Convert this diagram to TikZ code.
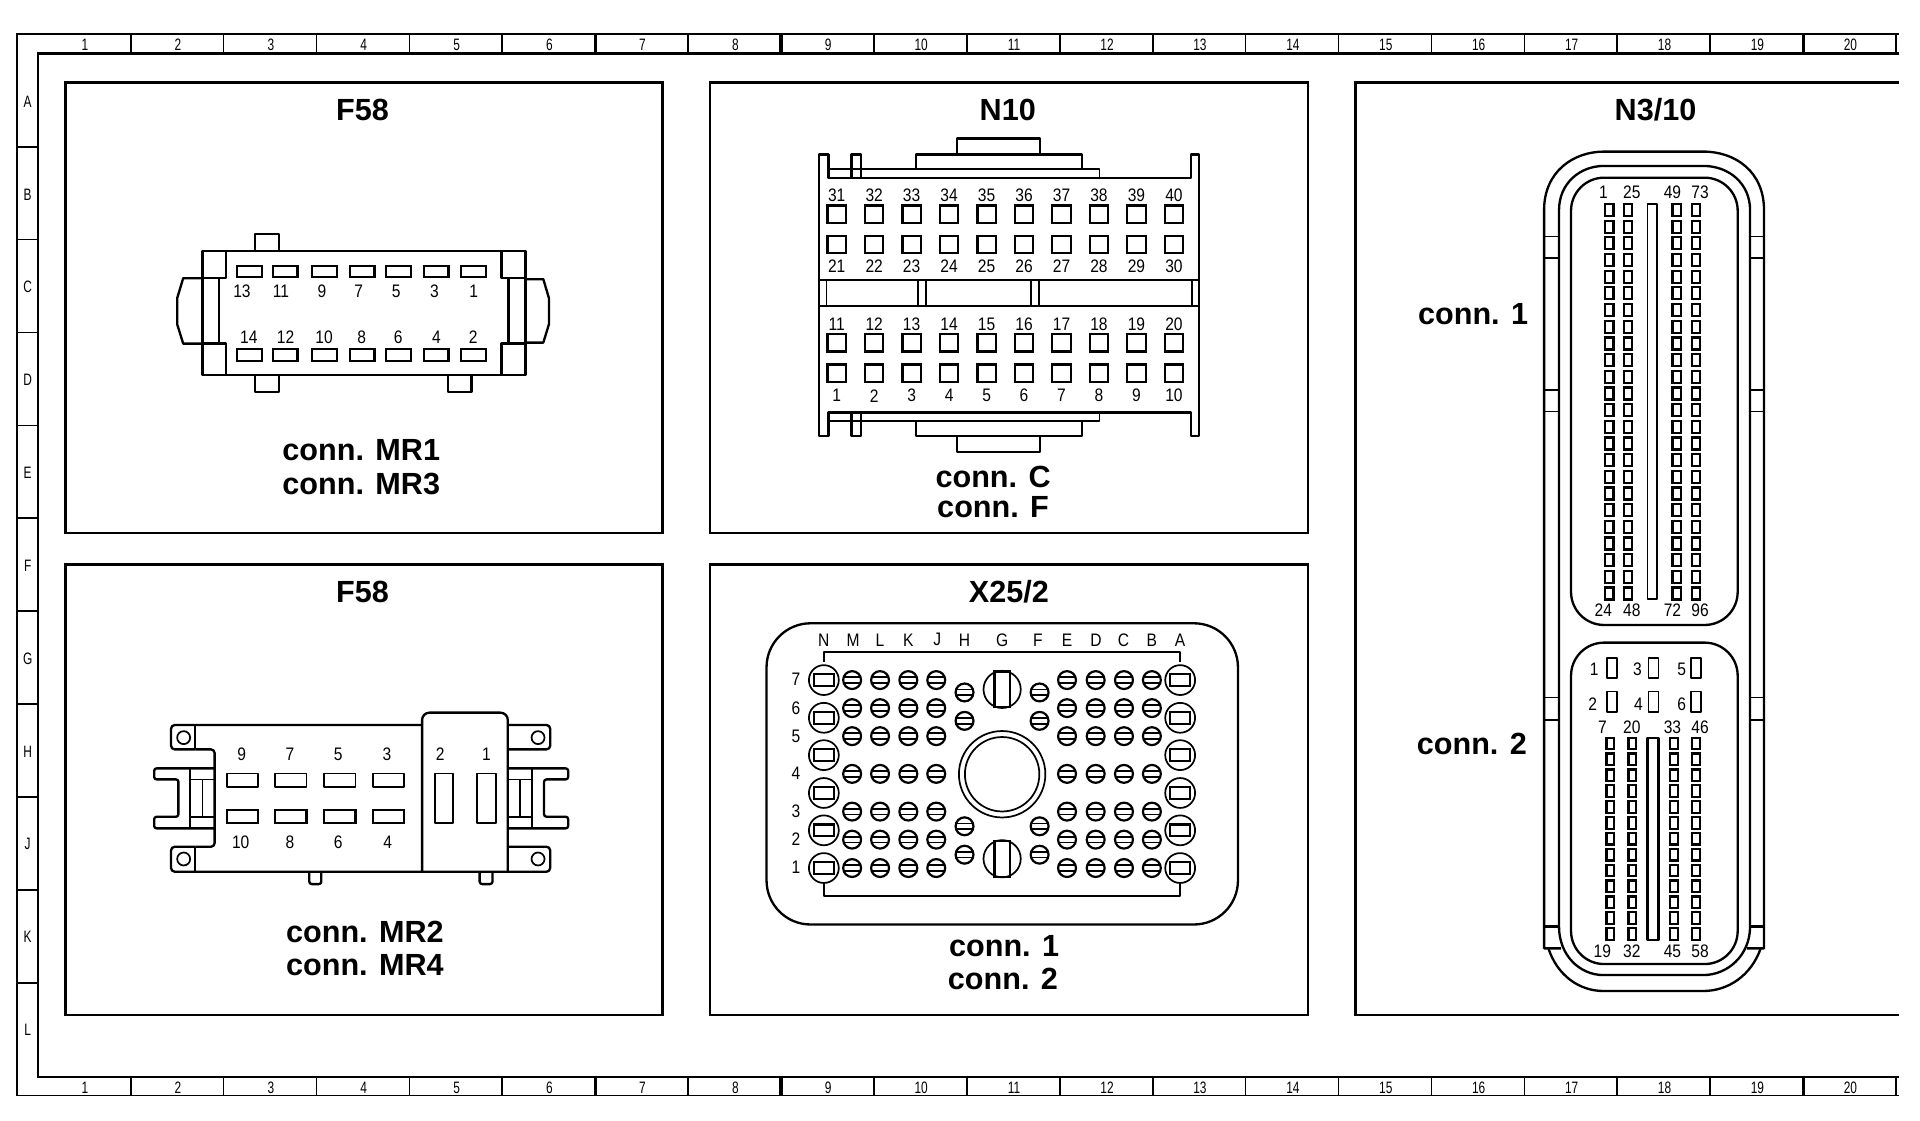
\documentclass[tikz,border=0pt]{standalone}
\usepackage{fontspec}
\setmainfont{Liberation Sans}
\newfontfamily\narrowfont[FakeStretch=0.72]{Liberation Sans}
\newfontfamily\pinfont[FakeStretch=0.86]{Liberation Sans}
\usetikzlibrary{positioning}

\begin{document}
\begin{tikzpicture}[
    x=1pt, y=-1pt,
    panel/.style={draw, line width=2pt},
    frameline/.style={line width=2pt},
    thinline/.style={line width=1pt},
    body/.style={line width=1.9pt, line join=round},
    slim/.style={line width=1.4pt, line join=round},
    pinbox/.style={line width=1.8pt},
    title/.style={font=\bfseries\fontsize{25}{27}\selectfont, inner sep=0pt},
    conn/.style={font=\bfseries\fontsize{25}{27}\selectfont, inner sep=0pt},
    pinlabel/.style={font=\pinfont\fontsize{14.8}{16}\selectfont, inner sep=0pt},
    gridlabel/.style={font=\narrowfont\fontsize{13.5}{14}\selectfont, inner sep=0pt}
]
    \useasboundingbox (0,0) rectangle (1568,914.67);

    % Drawing frame
    \draw[frameline] (14.1,894.8) -- (14.1,27.8) -- (1551,27.8);
    \draw[frameline] (1551,43.6) -- (31,43.6) -- (31,879.5) -- (1551,879.5);
    \draw[thinline] (14.1,894.8) -- (1551,894.8);
    \foreach \i in {1,...,20} {
        \pgfmathsetmacro{\tx}{106.7+(\i-1)*75.88}
        \pgfmathsetmacro{\lx}{69.4+(\i-1)*75.88}
        \ifnum\i=6 \tikzset{tickw/.style={line width=2.6pt}}\else\ifnum\i=8 \tikzset{tickw/.style={line width=2.6pt}}\else\ifnum\i=19 \tikzset{tickw/.style={line width=2.6pt}}\else\tikzset{tickw/.style={line width=1.4pt}}\fi\fi\fi
        \draw[tickw] (\tx,27.8) -- (\tx,43.6);
        \draw[tickw] (\tx,879.5) -- (\tx,894.8);
        \node[gridlabel] (coltop\i) at (\lx,36.8) {\i};
        \node[gridlabel] (colbot\i) at (\lx,888.2) {\i};
    }
    \foreach \i in {0,...,9}
        \draw[line width=1.4pt] (14.1,119.8+\i*75.86) -- (31,119.8+\i*75.86);
    \foreach \n [count=\i from 0] in {A,B,C,D,E,F,G,H,J,K,L}
        \node[gridlabel] (row\n) at (22.6,83+\i*75.8) {\n};

    % Panels
    \draw[panel] (53.6,67.2) rectangle (541.2,435.3);
    \draw[panel] (53.6,461) rectangle (541.2,829);
    \draw[panel] (579.8,67.2) rectangle (1068,435.3);
    \draw[panel] (579.8,461) rectangle (1068,829);
    \draw[panel] (1551,67.2) -- (1107,67.2) -- (1107,829) -- (1551,829);

    % Titles
    \node[title] (titleA) at (296,89.5) {F58};
    \node[title] (titleB) at (296,483.5) {F58};
    \node[title] (titleC) at (823,89.5) {N10};
    \node[title] (titleD) at (824,483.5) {X25/2};
    \node[title] (titleE) at (1352,89.5) {N3/10};
    \node[conn] (mr1) at (295,367.5) {conn. MR1};
    \node[conn] (mr3) at (295,395) {conn. MR3};
    \node[conn] (mr2) at (298,761.5) {conn. MR2};
    \node[conn] (mr4) at (298,788.5) {conn. MR4};
    \node[conn] (nc) at (811,389.5) {conn. C};
    \node[conn] (nf) at (811,414.5) {conn. F};
    \node[conn] (xa) at (820,772.5) {conn. 1};
    \node[conn] (xb) at (819,799.5) {conn. 2};
    \node[conn] (na) at (1203,256.5) {conn. 1};
    \node[conn] (nb) at (1202,607.5) {conn. 2};

    % F58 upper connector
    \draw[body] (165.4,204.9) rectangle (429.2,306.4);
    \draw[body] (208.5,204.9) -- (208.5,191.3) -- (227.9,191.3) -- (227.9,204.9);
    \draw[body] (208.5,306.4) -- (208.5,320) -- (227.9,320) -- (227.9,306.4);
    \draw[body] (366,306.4) -- (366,320) -- (385.1,320) -- (385.1,306.4);
    \draw[body] (184.5,204.9) -- (184.5,227.2) -- (165.4,227.2);
    \draw[body] (184.5,306.4) -- (184.5,280.4) -- (165.4,280.4);
    \draw[body] (409.5,204.9) -- (409.5,227.2) -- (429.2,227.2);
    \draw[body] (409.5,306.4) -- (409.5,280.4) -- (429.2,280.4);
    \draw[body] (178.6,227.2) -- (178.6,280.4);
    \draw[body] (415.4,227.2) -- (415.4,280.4);
    \draw[body] (165.4,227.2) -- (149.6,227.2) -- (144.7,243.5) -- (144.7,264.8) -- (149.6,280.6) -- (165.4,280.6);
    \draw[body] (429.2,228) -- (443.7,228) -- (448.3,243.5) -- (448.3,264.8) -- (443.7,279.8) -- (429.2,279.8);
    \foreach \x in {193.7,223,254.9,285.8,315.4,346.3,376.6} {
        \draw[pinbox] (\x,217.1) rectangle ++(20,9.3);
        \draw[pinbox] (\x,285.2) rectangle ++(20,9.3);
    }
    \foreach \x/\n in {197.6/13,229.5/11,263/9,293/7,323.6/5,354.9/3,386.8/1}
        \node[pinlabel] (fa\n) at (\x,238) {\n};
    \foreach \x/\n in {203.2/14,233.2/12,264.7/10,295.3/8,325.3/6,356.5/4,386.4/2}
        \node[pinlabel] (fa\n) at (\x,275.5) {\n};

    % F58 lower connector
    \draw[body, rounded corners=3pt] (159.5,612) -- (175.3,612) -- (175.3,691.5) -- (159.5,691.5);
    \draw[body, rounded corners=3pt] (344.7,592.1) -- (139.7,592.1) -- (139.7,612) -- (159.5,612);
    \draw[body, rounded corners=3pt] (159.5,691.5) -- (139.7,691.5) -- (139.7,711.9) -- (449.3,711.9) -- (449.3,691.5) -- (414.7,691.5);
    \draw[body] (159.5,592.1) -- (159.5,612);
    \draw[body] (159.5,691.5) -- (159.5,711.9);
    \draw[body, rounded corners=6pt] (344.7,711.9) -- (344.7,582) -- (414.7,582) -- (414.7,711.9);
    \draw[body, rounded corners=3pt] (414.7,592.1) -- (449.3,592.1) -- (449.3,612) -- (414.7,612);
    \draw[slim] (150,602.4) circle (5.3pt);
    \draw[slim] (150,701.5) circle (5.3pt);
    \draw[slim] (439.4,602.4) circle (5.3pt);
    \draw[slim] (439.4,701.5) circle (5.3pt);
    \draw[body, rounded corners=2pt] (175.3,627.5) -- (125.9,627.5) -- (125.9,636.5) -- (145.7,636.5) -- (145.7,667) -- (125.9,667) -- (125.9,676.5) -- (175.3,676.5);
    \draw[body, rounded corners=2pt] (414.7,627.5) -- (464,627.5) -- (464,636.5) -- (444.3,636.5) -- (444.3,667) -- (464,667) -- (464,676.5) -- (414.7,676.5);
    \draw[slim] (154.9,627.5) -- (154.9,676.5);
    \draw[slim] (154.9,636.5) -- (175.3,636.5);
    \draw[slim] (154.9,667) -- (175.3,667);
    \draw[slim] (165.4,636.5) -- (165.4,667);
    \draw[slim] (434.5,627.5) -- (434.5,676.5);
    \draw[slim] (414.7,636.5) -- (434.5,636.5);
    \draw[slim] (414.7,667) -- (434.5,667);
    \draw[slim] (424.6,636.5) -- (424.6,667);
    \draw[body, rounded corners=2pt] (252.6,711.9) -- (252.6,722) -- (262.4,722) -- (262.4,711.9);
    \draw[body, rounded corners=2pt] (391.7,711.9) -- (391.7,722) -- (402.2,722) -- (402.2,711.9);
    \foreach \x in {185.1,224.6,264.7,304.5} {
        \draw[slim] (\x,631.6) rectangle ++(25.7,10.9);
        \draw[pinbox] (\x,661.5) rectangle ++(25.7,10.9);
    }
    \draw[slim] (355.2,631.6) rectangle (370,672.4);
    \draw[slim] (389.7,631.6) rectangle (404.9,672.4);
    \foreach \x/\n in {197.3/9,236.8/7,276.3/5,316/3,359.5/2,397.3/1}
        \node[pinlabel] (fb\n) at (\x,616) {\n};
    \foreach \x/\n in {196.6/10,236.8/8,276.3/6,316.7/4}
        \node[pinlabel] (fb\n) at (\x,688) {\n};

    % N10 connector
    \draw[body] (669,126.2) -- (669,356.1) -- (676.5,356.1) -- (676.5,336.9) -- (972.6,336.9) -- (972.6,356.1) -- (979.2,356.1) -- (979.2,126.2) -- (972.6,126.2) -- (972.6,145.1) -- (676.5,145.1) -- (676.5,126.2) -- cycle;
    \draw[slim] (676.5,138.3) -- (897.9,138.3) -- (897.9,145.1);
    \draw[slim] (676.5,343.8) -- (897.9,343.8) -- (897.9,336.9);
    \draw[body] (695.3,145.1) -- (695.3,126.2) -- (702.9,126.2) -- (702.9,145.1);
    \draw[body] (695.3,336.9) -- (695.3,356.1) -- (702.9,356.1) -- (702.9,336.9);
    \draw[body] (748.2,138.3) -- (748.2,126.2) -- (883.8,126.2) -- (883.8,138.3);
    \draw[body] (781.8,126.2) -- (781.8,113) -- (849.2,113) -- (849.2,126.2);
    \draw[body] (748.2,343.8) -- (748.2,356.1) -- (883.8,356.1) -- (883.8,343.8);
    \draw[body] (781.8,356.1) -- (781.8,369.2) -- (849.2,369.2) -- (849.2,356.1);
    \draw[body] (669,228.7) -- (979.2,228.7);
    \draw[body] (669,250) -- (979.2,250);
    \foreach \x in {674.9,749.6,756.1,842,848.6,973.6}
        \draw[slim] (\x,228.7) -- (\x,250);
    \foreach \i [count=\k from 0] in {1,...,10} {
        \pgfmathsetmacro{\px}{683.3+\k*30.6}
        \pgfmathtruncatemacro{\na}{30+\i}
        \pgfmathtruncatemacro{\nb}{20+\i}
        \pgfmathtruncatemacro{\nc}{10+\i}
        \foreach \py in {167.9,192.5,273,297.7}
            \draw[pinbox] (\px-7.5,\py) rectangle ++(15,14);
        \node[pinlabel] (na\na) at (\px,159.3) {\na};
        \node[pinlabel] (na\nb) at (\px,217.4) {\nb};
        \node[pinlabel] (na\nc) at (\px,264.8) {\nc};
        \node[pinlabel] (na\i) at (\px,323.2) {\i};
    }

    % X25/2 connector
    \draw[body, rounded corners=36pt] (626,509) rectangle (1011,755);
    \draw[slim] (672.8,540.4) -- (672.8,532.2) -- (963.8,532.2) -- (963.8,540.4);
    \draw[slim] (672.8,721.7) -- (672.8,732) -- (963.8,732) -- (963.8,721.7);
    \foreach \x/\n in {672.8/N,696.7/M,718.7/L,741.8/K,765.4/J,787.7/H,818.4/G,847.5/F,871.4/E,895/D,917.6/C,940.7/B,963.8/A}
        \node[pinlabel] (xl\n) at (\x,522.5) {\n};
    \foreach \y/\n in {554.8/7,578/6,601/5,631.7/4,662.6/3,685.5/2,708/1}
        \node[pinlabel] (xn\n) at (650,\y) {\n};
    \foreach \x in {672.8,963.8}
        \foreach \y in {555.4,586.2,616.7,647.6,678.1,708.9} {
            \draw[slim] (\x,\y) circle (12.2pt);
            \draw[pinbox] (\x-8.2,\y-4.8) rectangle ++(16.4,9.6);
        }
    \foreach \x in {695.9,718.7,741.8,764.6,871.4,894.8,917.9,940.7}
        \foreach \y in {555.4,578.3,601.2,632,662.8,685.7,708.9} {
            \draw[pinbox] (\x,\y) circle (7.3pt);
            \draw[slim] (\x-7,\y-2.3) -- (\x+7,\y-2.3);
            \draw[slim] (\x-7,\y+2.3) -- (\x+7,\y+2.3);
        }
    \foreach \x in {787.7,849}
        \foreach \y in {565.5,588.7,674.8,698} {
            \draw[pinbox] (\x,\y) circle (7.3pt);
            \draw[slim] (\x-7,\y-2.3) -- (\x+7,\y-2.3);
            \draw[slim] (\x-7,\y+2.3) -- (\x+7,\y+2.3);
        }
    \foreach \y in {563,701.3} {
        \draw[slim] (818.4,\y) circle (15.2pt);
        \draw[pinbox] (812.2,\y-14.6) rectangle ++(12.4,29.2);
    }
    \draw[slim] (818.4,632.3) circle (35.3pt);
    \draw[slim] (818.4,632.3) circle (30.4pt);

    % N3/10 housing
    \draw[body] (1264.5,774.5) .. controls (1272,797) and (1290,809.3) .. (1309.4,809.3) -- (1391,809.3) .. controls (1411,809.3) and (1430,797) .. (1437.9,774.5);
    \draw[body] (1275,774.5) -- (1261,774.5) -- (1261,171.5) .. controls (1261,140) and (1285,123.8) .. (1310,123.8) -- (1391,123.8) .. controls (1417,123.8) and (1440.6,140) .. (1440.6,171.5) -- (1440.6,774.5) -- (1426.5,774.5);
    \draw[body] (1273.2,756.8) .. controls (1273.2,780) and (1290,796.3) .. (1309.4,796.3) -- (1391,796.3) .. controls (1411,796.3) and (1429.2,780) .. (1429.2,756.8) -- (1429.2,171.5) .. controls (1429.2,150) and (1412,135.5) .. (1391,135.5) -- (1310,135.5) .. controls (1290,135.5) and (1273.2,150) .. (1273.2,171.5) -- cycle;
    \foreach \y/\w in {193.2/1.2,210.9/2,318.5/2,336.2/1.2,569.5/1.2,588/1.2,756.8/2} {
        \draw[line width=\w pt] (1261,\y) -- (1273.2,\y);
        \draw[line width=\w pt] (1429.2,\y) -- (1440.6,\y);
    }
    \draw[body, rounded corners=27pt] (1283,145.1) rectangle (1419.1,510.4);
    \draw[body, rounded corners=27pt] (1283,524.8) rectangle (1419.1,787.3);

    % N3/10 connector 1
    \foreach \x in {1314.1,1329.6,1369.3,1385.1}
        \foreach \i in {0,...,23}
            \draw[pinbox] (\x-3.5,166.6+\i*13.62) rectangle ++(7,9.8);
    \draw[slim] (1345.4,166.6) rectangle (1353,489.4);
    \foreach \x/\n in {1309.4/1,1332.6/25,1365.8/49,1388.4/73}
        \node[pinlabel] (ca\n) at (\x,157) {\n};
    \foreach \x/\n in {1309.4/24,1332.6/48,1365.8/72,1388.4/96}
        \node[pinlabel] (ca\n) at (\x,498.6) {\n};

    % N3/10 connector 2
    \foreach \x in {1312.1,1346.2,1380.7} {
        \draw[slim] (\x,537.6) rectangle ++(8.2,16.3);
        \draw[slim] (\x,564.8) rectangle ++(8.2,16.4);
    }
    \foreach \x/\y/\n in {1302/546.3/1,1337.2/546.3/3,1373.4/546.3/5,1300.7/574.9/2,1338/574.9/4,1373.4/574.9/6}
        \node[pinlabel] (cb\n) at (\x,\y) {\n};
    \foreach \x in {1315.1,1333.1,1367.1,1385.1}
        \foreach \i in {0,...,12}
            \draw[pinbox] (\x-3.2,602.4+\i*12.97) rectangle ++(6.4,9.5);
    \draw[body] (1345.4,602.9) rectangle (1354.3,767.7);
    \foreach \x/\n in {1308.6/7,1332.6/20,1365.8/33,1388.4/46}
        \node[pinlabel] (cb\n) at (\x,593.9) {\n};
    \foreach \x/\n in {1308.6/19,1332.6/32,1365.8/45,1388.4/58}
        \node[pinlabel] (cb\n) at (\x,777) {\n};
\end{tikzpicture}
\end{document}
